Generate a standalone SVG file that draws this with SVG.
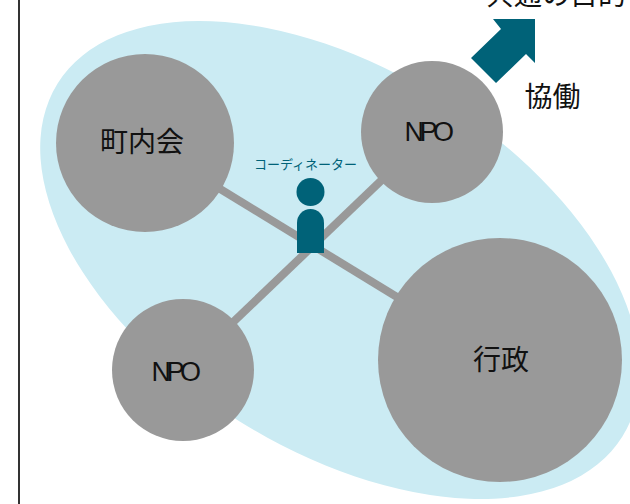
<svg xmlns="http://www.w3.org/2000/svg" width="630" height="504" viewBox="0 0 630 504">
<style>
.n{fill:#999}
.t{font-family:"Noto Sans CJK JP","Noto Sans",sans-serif;fill:#111;text-anchor:middle;font-size:28px}
.p{font-family:"Liberation Sans",sans-serif;fill:#111;text-anchor:middle;font-size:27px;letter-spacing:-4.500px}
.c{stroke:#999;stroke-width:8;fill:none}
.d{fill:#006278}
</style>
<rect width="630" height="504" fill="#fff"/>
<line x1="19" y1="0" x2="19" y2="504" stroke="#333" stroke-width="2"/>
<ellipse cx="340" cy="260" rx="333" ry="190" transform="rotate(32 340 260)" fill="#cbebf3"/>
<g id="connectors">
<line class="c" x1="145" y1="143" x2="500" y2="360"/>
<line class="c" x1="432" y1="132" x2="183" y2="370"/>
</g>
<g id="node-chonaikai"><circle class="n" cx="145" cy="143" r="89"/><text class="t" x="142" y="152">町内会</text></g>
<g id="node-npo1"><circle class="n" cx="432" cy="132" r="71"/><text class="p" x="427" y="141">NPO</text></g>
<g id="node-npo2"><circle class="n" cx="183" cy="370" r="71"/><text class="p" x="174" y="381">NPO</text></g>
<g id="node-gyosei"><circle class="n" cx="500" cy="360" r="122"/><text class="t" x="501" y="370">行政</text></g>
<g id="coordinator">
<text x="305.500" y="169" font-family="Noto Sans CJK JP,sans-serif" font-size="13" fill="#006278" text-anchor="middle">コーディネーター</text>
<circle class="d" cx="310.500" cy="192" r="14"/>
<path class="d" d="M297 253V223a13.500 14 0 0 1 27 0V253Z"/>
</g>
<g id="arrow">
<polygon class="d" points="493,19 535,19 535,63 526,54 496,83 471,58 501,29"/>
</g>
<text class="t" x="552.500" y="107">協働</text>
<text class="t" x="556" y="5">共通の目的</text>
</svg>
